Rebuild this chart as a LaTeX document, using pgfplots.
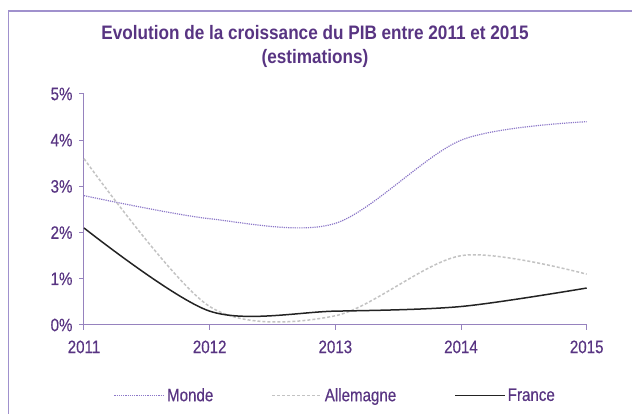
\documentclass[border=0pt]{standalone}
\usepackage{fontspec}
\setmainfont{Liberation Sans}
\newfontfamily\tickfont[FakeStretch=0.84,FakeBold=0.4]{Liberation Sans}
\newfontfamily\titlefont[FakeStretch=0.88]{Liberation Sans}
\usepackage{pgfplots}
\pgfplotsset{compat=1.18}
\definecolor{titlec}{RGB}{88,52,130}
\definecolor{axisc}{RGB}{150,130,190}
\definecolor{mondec}{RGB}{140,120,200}
\definecolor{allc}{RGB}{195,195,195}
\definecolor{frc}{RGB}{35,35,35}
\definecolor{framec}{RGB}{160,145,205}
\begin{document}
\begin{tikzpicture}[x=1pt,y=1pt]
\useasboundingbox (0,0) rectangle (632,414);
\draw[framec, line width=1.5pt] (8.5,0) -- (8.5,403) -- (632,403);
\begin{axis}[
  at={(84pt,89pt)}, anchor=south west,
  scale only axis, width=502.7pt, height=231pt,
  xmin=2011, xmax=2015, ymin=0, ymax=5,
  axis x line=bottom, axis y line=left,
  axis line style={draw=axisc, line width=1pt, -},
  xtick={2011,2012,2013,2014,2015},
  ytick={0,1,2,3,4,5},
  tick align=outside,
  major tick length=5pt,
  tick style={draw=axisc, line width=1pt},
  /pgf/number format/assume math mode=true,
  /pgf/number format/1000 sep={},
  yticklabel={\pgfmathprintnumber{\tick}\%},
  ticklabel style={font=\tickfont\fontsize{18}{20}\selectfont, text=titlec},
  yticklabel style={xshift=-3pt},
  xticklabel style={yshift=-7pt},
  title={Evolution de la croissance du PIB entre 2011 et 2015\\(estimations)},
  title style={at={(axis description cs:0.4595,1.18)}, anchor=center, align=center,
    font=\titlefont\fontsize{19.5}{24}\selectfont\bfseries, text=titlec},
  legend columns=3,
  legend style={at={(axis description cs:0.5,-0.305)}, anchor=center, draw=none,
    font=\tickfont\fontsize{18}{20}\selectfont, text=titlec,
    /tikz/every even column/.append style={column sep=56pt}},
  legend image code/.code={\draw[#1] (0pt,0pt) -- (50pt,0pt);},
  clip=false,
]
\addplot[mondec, line width=1.2pt, densely dotted, smooth] coordinates {
  (2011,2.8) (2012,2.3) (2013,2.2) (2014,4.0) (2015,4.4)};
\addlegendentry{Monde}
\addplot[allc, line width=1.5pt, dash pattern=on 3pt off 2pt, smooth] coordinates {
  (2011,3.6) (2012,0.4) (2013,0.2) (2014,1.5) (2015,1.1)};
\addlegendentry{Allemagne}
\addplot[frc, line width=1.5pt, smooth] coordinates {
  (2011,2.1) (2012,0.3) (2013,0.3) (2014,0.4) (2015,0.8)};
\addlegendentry{France}
\end{axis}
\end{tikzpicture}
\end{document}
